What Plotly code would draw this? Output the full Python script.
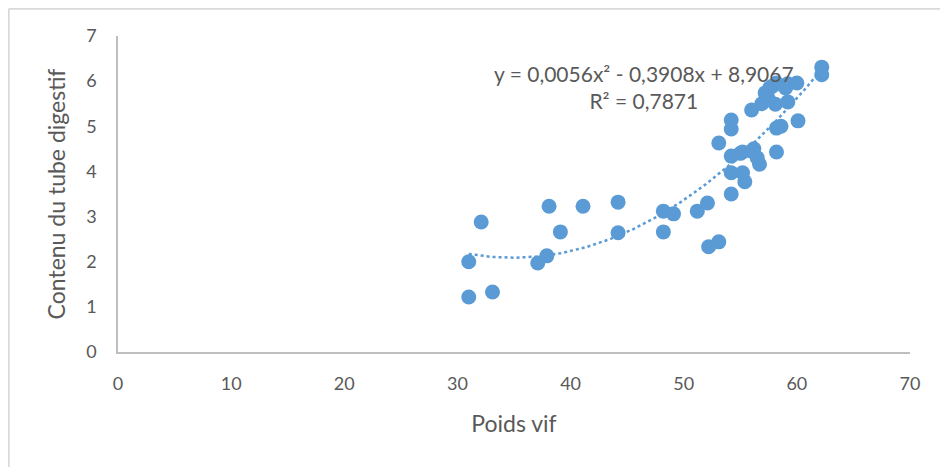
import plotly.graph_objects as go
import numpy as np

poids_vif = [31.0, 31.0, 32.1, 33.1, 37.1, 37.9, 38.1, 39.1, 41.1, 44.2, 44.2, 48.2, 48.2, 49.1,
             51.2, 52.1, 52.2, 53.1, 53.1, 54.2, 54.2, 54.2, 54.2, 54.2, 55.2, 55.2, 55.4, 56.0,
             56.0, 56.5, 56.7, 57.2, 57.5, 57.6, 58.1, 58.2, 58.2, 58.2, 58.6, 59.2, 59.2, 60.0,
             60.1, 62.2, 62.2, 56.9, 57.9, 59.0, 56.2, 55.0]
contenu = [2.00, 1.22, 2.88, 1.33, 1.97, 2.13, 3.23, 2.66, 3.23, 3.32, 2.64, 2.66, 3.12, 3.06,
           3.12, 3.30, 2.33, 2.44, 4.63, 5.14, 4.94, 4.34, 3.97, 3.50, 4.43, 3.97, 3.77, 4.45,
           5.36, 4.30, 4.16, 5.74, 5.60, 5.85, 5.49, 5.96, 4.43, 4.96, 5.00, 5.54, 5.94, 5.96,
           5.12, 6.31, 6.14, 5.50, 5.90, 5.85, 4.50, 4.40]

trend_coeffs = [0.0056, -0.3908, 8.9067]
equation_text = "y = 0,0056x² - 0,3908x + 8,9067<br>R² = 0,7871"

x_ticks = [0, 10, 20, 30, 40, 50, 60, 70]
y_ticks = [0, 1, 2, 3, 4, 5, 6, 7]

blue = "#5b9bd5"
txt = "#595959"
font_family = "Lato, Roboto, sans-serif"

xt = np.linspace(min(poids_vif), max(poids_vif), 120)
yt = np.polyval(trend_coeffs, xt)

fig = go.Figure()
fig.add_trace(go.Scatter(x=xt, y=yt, mode="lines",
                         line=dict(color=blue, width=2.5, dash="dot"),
                         hoverinfo="skip", showlegend=False))
fig.add_trace(go.Scatter(x=poids_vif, y=contenu, mode="markers",
                         marker=dict(color=blue, size=15, line=dict(width=0)),
                         showlegend=False))

fig.add_annotation(x=46.5, y=5.86, xref="x", yref="y", text=equation_text,
                   showarrow=False, align="center",
                   font=dict(family=font_family, size=21, color=txt))

fig.update_layout(
    width=940, height=459,
    margin=dict(l=110, r=38, t=28, b=115),
    paper_bgcolor="white", plot_bgcolor="white",
    font=dict(family=font_family, size=18, color=txt),
    xaxis=dict(range=[0, 70], tickvals=x_ticks, showgrid=False, zeroline=False,
               showline=True, linecolor="#bfbfbf", linewidth=1.5, ticks="",
               ticklabelstandoff=15,
               title=dict(text="Poids vif", standoff=23, font=dict(size=23, color=txt))),
    yaxis=dict(range=[0, 7], tickvals=y_ticks, showgrid=False, zeroline=False,
               showline=True, linecolor="#bfbfbf", linewidth=1.5, ticks="",
               ticklabelstandoff=16,
               title=dict(text="Contenu du tube digestif", standoff=14, font=dict(size=23, color=txt))),
    shapes=[
        dict(type="line", xref="paper", yref="paper", x0=-0.138, x1=1.06, y0=1.086, y1=1.086,
             line=dict(color="#d9d9d9", width=2)),
        dict(type="line", xref="paper", yref="paper", x0=-0.138, x1=-0.138, y0=1.086, y1=-0.4,
             line=dict(color="#d9d9d9", width=2)),
    ],
)

fig.write_html("out.html")
